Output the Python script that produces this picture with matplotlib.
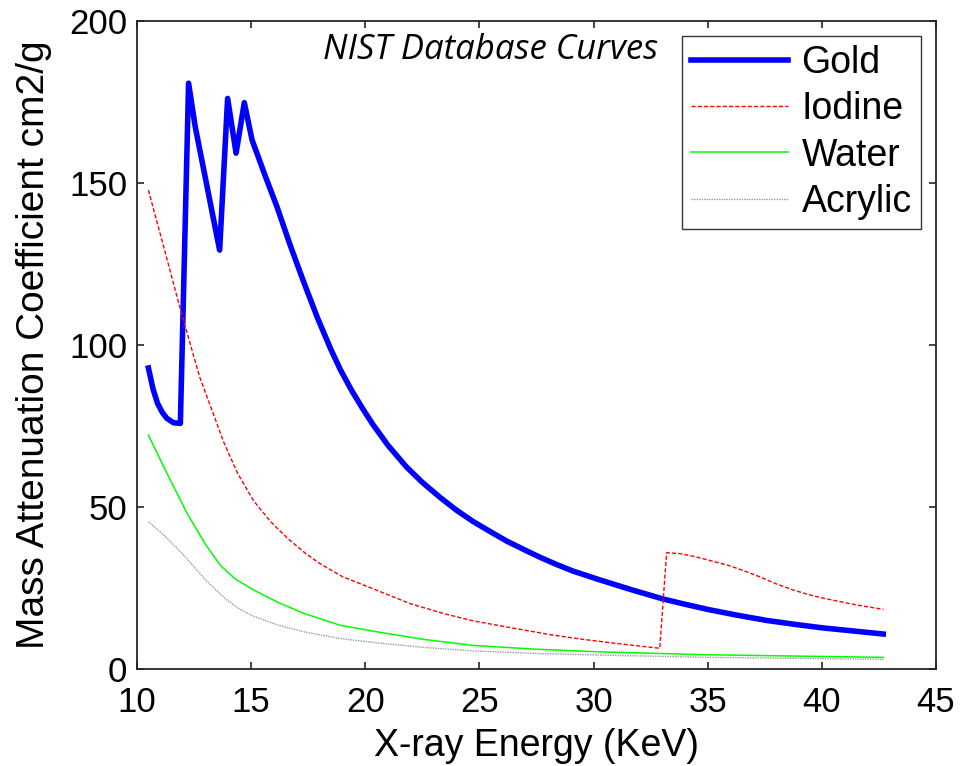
import numpy as np
import matplotlib
matplotlib.use('Agg')
from matplotlib import pyplot as plt

# mass attenuation coefficients (cm2/g) vs photon energy (keV)
gold_e = [10.5, 10.7, 10.9, 11.1, 11.3, 11.6, 11.9, 12.26, 12.55, 13.62, 13.97, 14.34, 14.70,
          15.04, 15.6, 16.13, 16.7, 17.3, 17.9, 18.47, 18.9, 19.4, 19.9, 20.35, 21.0, 21.8,
          22.5, 23.27, 24.0, 24.73, 25.5, 26.19, 27.0, 27.65, 28.4, 29.11, 30.28, 31.6,
          33.05, 34.0, 35.0, 36.3, 37.58, 38.8, 40.03, 41.3, 42.69]
gold_mu = [92.9, 86.5, 82.0, 79.3, 77.4, 76.0, 75.8, 180.8, 167.4, 129.3, 176.1, 159.2, 174.8,
           163.3, 152.5, 142.7, 131.0, 119.5, 108.5, 99.0, 92.5, 86.0, 80.2, 75.3, 69.0, 62.4,
           57.6, 53.0, 49.0, 45.5, 42.3, 39.5, 36.7, 34.5, 32.2, 30.2, 27.5, 24.6,
           21.6, 20.0, 18.4, 16.6, 15.0, 13.8, 12.7, 11.8, 10.8]

iodine_e = [10.5, 11.17, 11.83, 12.2, 12.75, 13.2, 13.8, 14.4, 15.1, 15.85, 16.6, 17.4, 18.0,
            19.0, 20.4, 22.0, 23.5, 24.7, 26.5, 28.1, 29.5, 31.0, 32.9,
            33.2, 33.8, 34.5, 35.2, 35.9, 36.6, 37.3, 38.0, 38.7, 39.4, 40.1, 40.8, 41.5, 42.7]
iodine_mu = [147.8, 130.3, 112.9, 103.6, 90.0, 81.5, 70.0, 60.5, 52.0, 45.5, 40.3, 35.6, 32.6,
             28.5, 24.6, 20.1, 17.0, 14.9, 12.6, 10.6, 9.2, 7.9, 6.4,
             35.9, 35.6, 34.6, 33.3, 32.0, 30.3, 28.4, 26.3, 24.5, 23.0, 21.8, 20.8, 19.8, 18.4]

water_e = [10.5, 11.2, 12.19, 13.0, 13.65, 14.3, 15.11, 16.2, 17.3, 18.9, 20.5, 22.5, 24.7,
           27.5, 30.3, 35.0, 42.7]
water_mu = [72.2, 62.0, 48.1, 38.5, 32.0, 27.8, 24.4, 20.5, 17.2, 13.5, 11.5, 9.2, 7.3,
            6.1, 5.3, 4.4, 3.6]

acrylic_e = [10.5, 11.3, 12.2, 13.0, 13.9, 14.5, 15.1, 16.2, 17.3, 18.9, 20.5, 22.5, 24.7,
             27.5, 30.3, 35.0, 42.7]
acrylic_mu = [45.5, 40.5, 34.0, 27.5, 21.5, 18.5, 16.3, 13.5, 11.5, 9.4, 8.1, 6.7, 5.6,
              4.8, 4.3, 3.6, 3.0]

plt.rcParams['font.family'] = ['Liberation Sans', 'DejaVu Sans']

fig = plt.figure(figsize=(9.6, 7.66), dpi=100)
ax = fig.add_axes([0.1427, 0.1266, 0.8323, 0.846])

ax.plot(gold_e, gold_mu, color='#0000ff', lw=4.0, label='Gold', solid_joinstyle='round')
ax.plot(iodine_e, iodine_mu, color='#ff0000', lw=1.0, ls=(0, (3, 1.5)), label='Iodine')
ax.plot(water_e, water_mu, color='#00ff00', lw=1.1, label='Water')
ax.plot(acrylic_e, acrylic_mu, color='#999999', lw=1.0, ls=(0, (1, 0.8)), label='Acrylic')

ax.set_xlim(10, 45)
ax.set_ylim(0, 200)
ax.set_xticks(np.arange(10, 46, 5))
ax.set_yticks(np.arange(0, 201, 50))

ax.tick_params(direction='in', length=5, width=1.2, colors='#262626', labelcolor='black',
               top=True, right=True, labelsize=25)
ax.tick_params(axis='x', pad=12)
ax.tick_params(axis='y', pad=7)
for s in ax.spines.values():
    s.set_linewidth(1.3)
    s.set_color('#262626')

ax.set_xlabel('X-ray Energy (KeV)', fontsize=27, labelpad=7)
ax.set_ylabel('Mass Attenuation Coefficient cm2/g', fontsize=28, labelpad=12)

ax.text(0.442, 0.955, 'NIST Database Curves', transform=ax.transAxes, ha='center', va='center',
        fontsize=25, style='italic', family=['Open Sans', 'DejaVu Sans'])

leg = ax.legend(loc='upper right', fontsize=27, frameon=True, fancybox=False,
                edgecolor='#333333', framealpha=1, handlelength=2.6, handletextpad=0.35,
                labelspacing=0.27, borderaxespad=0.4, borderpad=0.25)
leg.get_frame().set_linewidth(1.0)

plt.savefig('out.png', dpi=100)
